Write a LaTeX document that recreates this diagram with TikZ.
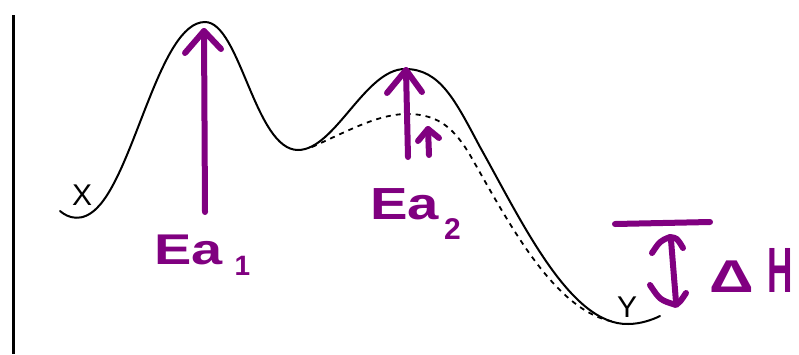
\documentclass[tikz,border=0pt]{standalone}
\usepackage{fontspec}
\setmainfont{Liberation Sans}
\definecolor{inkpurple}{RGB}{128,0,128}
\begin{document}
\begin{tikzpicture}[x=1pt,y=-1pt,
  curve/.style={line width=2pt, black, line cap=round},
  dashcurve/.style={line width=1.8pt, black, dash pattern=on 5pt off 5pt},
  ink/.style={line width=6pt, inkpurple, line cap=round, line join=round},
  inktext/.style={inkpurple, inner sep=0pt, anchor=base west},
  lab/.style={black, inner sep=0pt, anchor=base west, font=\fontsize{30}{30}\selectfont}]
\useasboundingbox (0,0) rectangle (799,354);
% axis
\draw[line width=3pt] (13,15) -- (13,354);
% energy profile
\draw[curve] (60,211) .. controls (68,218) and (82,223) .. (97,208)
  .. controls (135,170) and (160,22) .. (205,22)
  .. controls (240,22) and (255,150) .. (298,150)
  .. controls (335,150) and (365,69) .. (405,69)
  .. controls (440,69) and (455,100) .. (480,147)
  .. controls (522,222) and (570,325) .. (628,324)
  .. controls (640,324) and (652,320) .. (660,316);
% catalysed path
\draw[dashcurve] (312,147) .. controls (350,130) and (380,113) .. (410,114)
  .. controls (440,115) and (455,130) .. (470,155)
  .. controls (510,225) and (555,312) .. (615,322);
% labels
\node[lab] (X) at (72,205) {X};
\node[lab] (Y) at (617,317) {Y};
% Ea1 arrow
\coordinate (ea1b) at (205,212);
\coordinate (ea1t) at (204,31);
\draw[ink] (ea1b) -- (ea1t);
\draw[ink] (185,53) -- (ea1t) -- (221,49);
% Ea2 arrow
\coordinate (ea2b) at (408,157);
\coordinate (ea2t) at (406,70);
\draw[ink] (ea2b) -- (ea2t);
\draw[ink] (387,93) -- (ea2t) -- (422,92);
% small arrow
\coordinate (e3b) at (429,155);
\coordinate (e3t) at (428,129);
\draw[ink] (e3b) -- (e3t);
\draw[ink] (418,141) -- (e3t) -- (439,138);
% Ea texts
\node[inktext, font=\bfseries\fontsize{43}{43}\selectfont] (Ea1) at (154,264)
  {\scalebox{1.3}[1]{Ea}\hspace{12pt}\raisebox{-11pt}{\fontsize{28}{28}\selectfont 1}};
\node[inktext, font=\bfseries\fontsize{45}{45}\selectfont] (Ea2) at (370,219)
  {\scalebox{1.25}[1]{Ea}\hspace{5pt}\raisebox{-20pt}{\fontsize{30}{30}\selectfont 2}};
% Delta H
\draw[ink] (615,224) -- (710,222);
\draw[ink] (652,253) .. controls (660,241) .. (670,237) .. controls (677,238) .. (683,248);
\draw[ink] (671,240) -- (676,302);
\draw[ink] (650,285) .. controls (660,300) .. (676,305) .. controls (680,302) .. (686,293);
\node[inktext, font=\bfseries] (dH) at (709,292)
  {\scalebox{1.35}[1]{\fontsize{46}{46}\selectfont Δ}\hspace{14pt}\scalebox{0.55}[1]{\fontsize{64}{64}\selectfont H}};
\end{tikzpicture}
\end{document}
